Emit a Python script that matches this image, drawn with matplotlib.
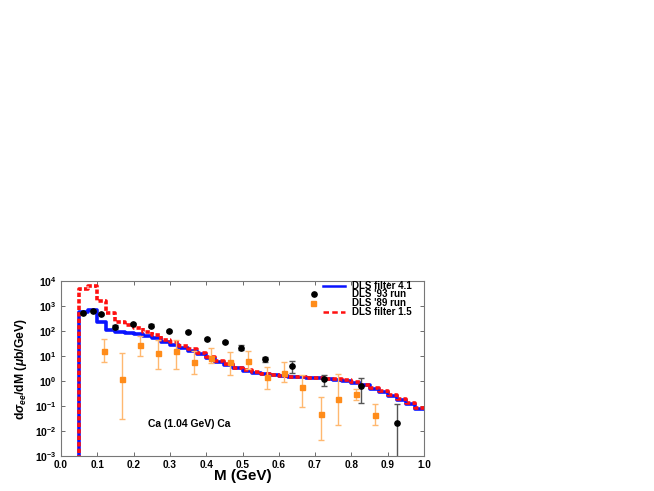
import matplotlib
matplotlib.use('Agg')
import matplotlib.pyplot as plt
import numpy as np

# histogram bins (0.025 GeV wide, 0.05 .. 1.0)
edges = np.round(np.arange(0.05, 1.0001, 0.025), 4)

# DLS filter 1.5 (red dashed)
filt15 = [4800, 6500, 1630, 510, 235, 175, 130, 90, 70, 45,
          35, 26, 19, 13, 9.0, 6.3, 4.6, 3.4, 2.7, 2.2,
          1.9, 1.75, 1.6, 1.5, 1.42, 1.36, 1.3, 1.25, 1.18, 1.05,
          0.92, 0.72, 0.52, 0.38, 0.28, 0.19, 0.135, 0.085]

# DLS filter 4.1 (blue solid)
filt41 = [560, 680, 235, 105, 90, 84, 74, 63, 51, 37,
          28, 21, 16, 12, 8.4, 6.0, 4.4, 3.3, 2.6, 2.1,
          1.85, 1.7, 1.55, 1.45, 1.38, 1.32, 1.26, 1.21, 1.14, 1.0,
          0.87, 0.68, 0.49, 0.35, 0.26, 0.175, 0.125, 0.078]

# DLS '93 run
m93 = [0.061, 0.088, 0.110, 0.149, 0.198, 0.248, 0.298, 0.350,
       0.402, 0.452, 0.497, 0.562, 0.636, 0.725, 0.826, 0.925]
y93 = [520, 630, 480, 145, 190, 165, 100, 92, 47, 36, 21, 7.4, 4.0, 1.17, 0.63, 0.021]
lo93 = [470, 570, 430, 120, 170, 150, 92, 84, 42, 32, 17, 5.6, 2.1, 0.63, 0.13, 0.0004]
hi93 = [580, 700, 530, 175, 215, 185, 110, 100, 53, 41, 27, 9.5, 6.5, 1.74, 1.3, 0.12]

# DLS '89 run
m89 = [0.1175, 0.168, 0.2167, 0.266, 0.318, 0.365, 0.413, 0.466,
       0.515, 0.567, 0.614, 0.665, 0.715, 0.764, 0.814, 0.865]
y89 = [16, 1.2, 27, 13, 16, 5.8, 8.5, 5.6, 6.5, 1.4, 2.1, 0.59, 0.049, 0.19, 0.30, 0.044]
lo89 = [5.8, 0.03, 10, 3, 3, 1.9, 5.4, 1.7, 3, 0.48, 0.89, 0.094, 0.0044, 0.017, 0.17, 0.017]
hi89 = [47, 13, 63, 44, 44, 16, 20, 15, 16, 3.7, 5.6, 1.7, 0.23, 1.9, 0.48, 0.12]

xticks = [0.0, 0.1, 0.2, 0.3, 0.4, 0.5, 0.6, 0.7, 0.8, 0.9, 1.0]
yticks = [1e-3, 1e-2, 1e-1, 1e0, 1e1, 1e2, 1e3, 1e4]
legend_labels = ['DLS filter 4.1', "DLS '93 run", "DLS '89 run", 'DLS filter 1.5']

BLUE = '#0a14ff'
RED = '#ff1010'
ORANGE = '#ff8c1a'


def step_xy(values):
    xs = np.concatenate([[edges[0]], edges])
    ys = np.concatenate([[1e-6], values, [values[-1]]])
    return xs, ys


plt.rcParams['font.family'] = ['Liberation Sans', 'DejaVu Sans']
plt.rcParams['mathtext.fontset'] = 'custom'
plt.rcParams['mathtext.rm'] = 'Liberation Sans:bold'
plt.rcParams['mathtext.bf'] = 'Liberation Sans:bold'
plt.rcParams['mathtext.it'] = 'Liberation Sans:italic:bold'

fig = plt.figure(figsize=(6.54, 4.91), dpi=100)
ax = fig.add_axes([0.0933, 0.0713, 0.555, 0.3564])

xs, ys = step_xy(filt41)
ax.plot(xs, ys, drawstyle='steps-post', color=BLUE, lw=2.6, zorder=3)

y93a = np.array(y93)
err93 = [y93a - np.array(lo93), np.array(hi93) - y93a]
ax.errorbar(m93, y93, yerr=err93, fmt='o', color='black', ms=3.8,
            ecolor='#555555', elinewidth=1, capsize=2.2, capthick=1, zorder=5)

y89a = np.array(y89)
err89 = [y89a - np.array(lo89), np.array(hi89) - y89a]
ax.errorbar(m89, y89, yerr=err89, fmt='s', color=ORANGE, ms=3.6,
            ecolor='#ffb870', elinewidth=1, capsize=2.2, capthick=1, zorder=5)

xs, ys = step_xy(filt15)
ax.plot(xs, ys, drawstyle='steps-post', color=RED, lw=2.6,
        linestyle=(0, (1.2, 0.6)), zorder=4)

ax.set_yscale('log')
ax.set_xlim(0.0, 1.0)
ax.set_ylim(1e-3, 1e4)
ax.set_xticks(xticks)
ax.set_xticklabels(['%.1f' % t for t in xticks], fontweight='bold', fontsize=7.2)
ax.set_yticks(yticks)
ax.set_yticklabels([r'$\mathbf{10^{%d}}$' % int(np.log10(t)) for t in yticks], fontsize=7.5)
ax.yaxis.set_minor_locator(matplotlib.ticker.NullLocator())
ax.tick_params(direction='in', top=True, right=True, length=3, width=0.6,
               color='#555555')
ax.tick_params(axis='x', pad=3)
ax.tick_params(axis='y', pad=3)
for s in ax.spines.values():
    s.set_color('#777777')
    s.set_linewidth(0.8)

ax.set_xlabel('M (GeV)', fontsize=11, fontweight='bold', labelpad=-1)
ax.set_ylabel(r'd$\sigma_{ee}$/dM ($\mu$b/GeV)', fontsize=8.8, fontweight='bold',
              labelpad=4)

ax.text(0.24, 0.014, 'Ca (1.04 GeV) Ca', fontsize=7.5, fontweight='bold')

# hand-placed legend: markers sit left of the line handles, rows tight
rows = [0.974, 0.924, 0.874, 0.824]
tr = ax.transAxes
ax.plot([0.722, 0.782], [rows[0]] * 2, color=BLUE, lw=1.8, transform=tr)
ax.plot([0.697], [rows[1]], 'o', color='black', ms=3.8, transform=tr)
ax.plot([0.693], [rows[2]], 's', color=ORANGE, ms=3.6, transform=tr)
ax.plot([0.722, 0.782], [rows[3]] * 2, color=RED, lw=1.8,
        linestyle=(0, (2.2, 1.3)), transform=tr)
for r, lab in zip(rows, legend_labels):
    ax.text(0.801, r, lab, transform=tr, fontsize=7.0, fontweight='bold',
            va='center', ha='left')

fig.savefig('out.png', dpi=100)
